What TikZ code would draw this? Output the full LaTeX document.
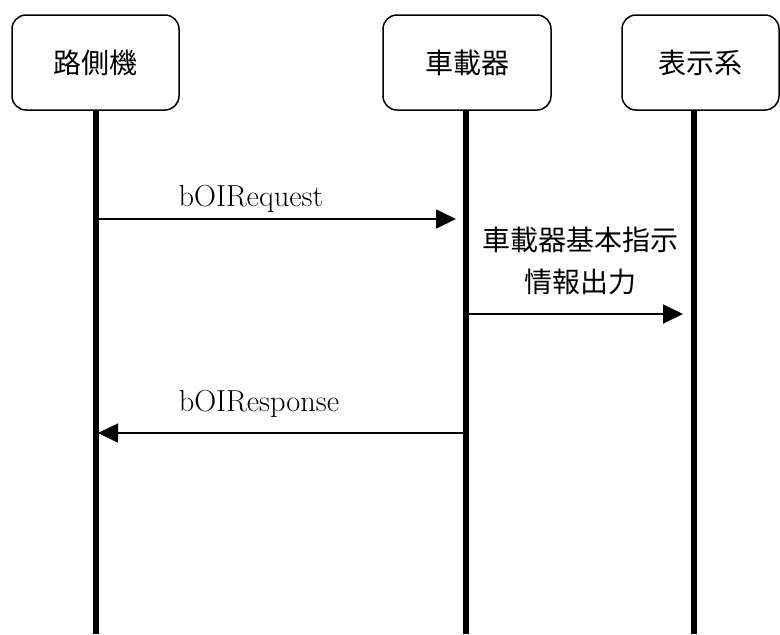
\documentclass[tikz,border=0pt]{standalone}
\usepackage{fontspec}
\newfontfamily\jpfont{Noto Sans CJK JP}
\usepackage{tikz}
\usetikzlibrary{arrows.meta}
\tikzset{
	actor/.style={draw, line width=0.75pt, rounded corners=7pt, minimum height=47.5pt, inner sep=0pt, font=\jpfont\fontsize{14}{17}\selectfont},
	lifeline/.style={line width=3pt},
	msg/.style={line width=0.85pt, -{Triangle[length=10pt, width=9.5pt]}},
	msglabel/.style={font=\fontsize{15.2}{18}\selectfont, inner sep=0pt}
}

\begin{document}
\begin{tikzpicture}[x=0.5pt, y=-0.5pt]
			%%%%% START %%%%%
			\useasboundingbox (0, 0) rectangle (780, 634);
			
			\node[actor, minimum width=83.5pt] (rsu) at (95.5, 62.5) {路側機};
			\node[actor, minimum width=84pt] (obu) at (467, 62.5) {車載器};
			\node[actor, minimum width=78.5pt] (disp) at (700.5, 62.5) {表示系};
			
			\coordinate (rsu-end) at (96, 634);
			\coordinate (obu-end) at (466, 634);
			\coordinate (disp-end) at (694, 634);
			
			\draw[lifeline] (rsu.south -| rsu-end) -- (rsu-end);
			\draw[lifeline] (obu.south -| obu-end) -- (obu-end);
			\draw[lifeline] (disp.south -| disp-end) -- (disp-end);
			
			\coordinate (req-a) at (99, 219);
			\coordinate (req-b) at (456, 219);
			\draw[msg] (req-a) -- (req-b);
			\node[msglabel] (req) at (251, 199) {bOIRequest};
			
			\coordinate (out-a) at (469, 314);
			\coordinate (out-b) at (683, 314);
			\draw[msg] (out-a) -- (out-b);
			\node[msglabel, font=\jpfont\fontsize{14}{21}\selectfont, align=center] (out) at (580, 261) {車載器基本指示\\情報出力};
			
			\coordinate (res-a) at (463, 433);
			\coordinate (res-b) at (98, 433);
			\draw[msg] (res-a) -- (res-b);
			\node[msglabel] (res) at (259, 404) {bOIResponse};
			
			%%%%% END %%%%%
\end{tikzpicture}
\end{document}
